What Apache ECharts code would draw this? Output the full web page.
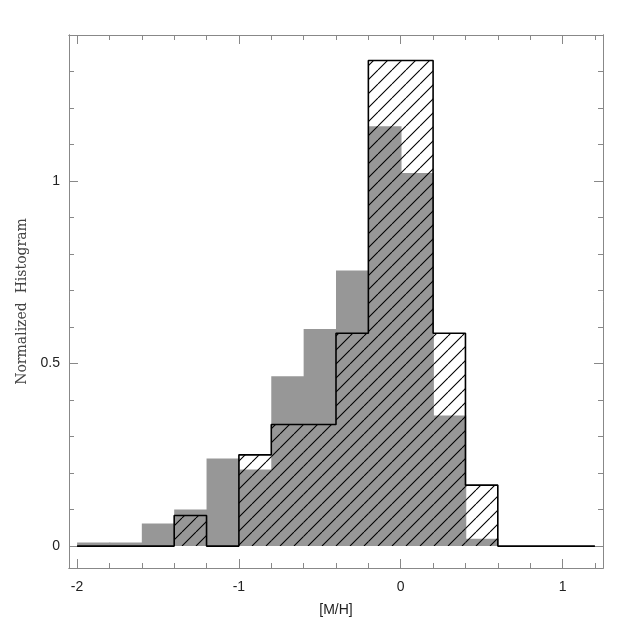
<!DOCTYPE html>
<html>
<head>
<meta charset="utf-8">
<script src="https://cdn.jsdelivr.net/npm/echarts@6/dist/echarts.min.js"></script>
<style>html,body{margin:0;padding:0;background:#fff}#chart{width:638px;height:638px}</style>
</head>
<body>
<div id="chart"></div>
<script>
// Bin edges of the [M/H] histograms
const binEdges = [-2.0,-1.8,-1.6,-1.4,-1.2,-1.0,-0.8,-0.6,-0.4,-0.2,0.0,0.2,0.4,0.6,0.8,1.0,1.2];
// Gray filled histogram
const grayValues = [0.01,0.01,0.062,0.100,0.240,0.210,0.465,0.595,0.755,1.150,1.022,0.358,0.020,0,0,0];
// Hatched outlined histogram
const hatchValues = [0,0,0,0.084,0,0.250,0.333,0.333,0.583,1.330,1.330,0.583,0.167,0,0,0];
// Tick labels/positions
const xMajorTicks = [-2,-1,0,1];
const xMinorTicks = [-1.8,-1.6,-1.4,-1.2,-0.8,-0.6,-0.4,-0.2,0.2,0.4,0.6,0.8,1.2];
const yMajorTicks = [0,0.5,1];
const yMinorTicks = [0.1,0.2,0.3,0.4,0.6,0.7,0.8,0.9,1.1,1.2,1.3];

const X_MIN = -2.05, X_MAX = 1.25, Y_MIN = -0.06, Y_MAX = 1.4;
const frameColor = '#888888';
const sansFont = 'Liberation Sans, Arial, sans-serif';

// hatch pattern
const tile = 14;
const pc = document.createElement('canvas');
pc.width = tile; pc.height = tile;
const pctx = pc.getContext('2d');
pctx.strokeStyle = '#000';
pctx.lineWidth = 1.1;
pctx.beginPath();
[-tile, 0, tile].forEach(k => { pctx.moveTo(k, tile); pctx.lineTo(k + tile, 0); });
pctx.stroke();

const grayData = grayValues.map((v, i) => [binEdges[i], binEdges[i+1], v]);
const hatchData = hatchValues.map((v, i) => [binEdges[i], binEdges[i+1], v]);
const stepData = hatchValues.map((v, i) => [binEdges[i], v]);
stepData.push([binEdges[binEdges.length-1], 0]);

function rectRender(fill, seam) {
  return function (params, api) {
    const p0 = api.coord([api.value(0), api.value(2)]);
    const p1 = api.coord([api.value(1), 0]);
    const h = p1[1] - p0[1];
    if (h <= 0) return null;
    return {
      type: 'rect',
      shape: { x: p0[0], y: p0[1], width: p1[0] - p0[0] + seam, height: h },
      style: { fill: fill }
    };
  };
}

function xAxisDef(pos, ticks, len, labels) {
  return {
    type: 'value', min: X_MIN, max: X_MAX, position: pos,
    axisLine: { show: true, onZero: false, lineStyle: { color: frameColor, width: 1 } },
    axisTick: { show: true, inside: true, length: len, customValues: ticks, lineStyle: { color: frameColor } },
    axisLabel: labels ? { show: true, customValues: ticks, margin: 12, fontSize: 14, color: '#222', fontFamily: sansFont } : { show: false },
    splitLine: { show: false }
  };
}
function yAxisDef(pos, ticks, len, labels) {
  return {
    type: 'value', min: Y_MIN, max: Y_MAX, position: pos,
    axisLine: { show: true, onZero: false, lineStyle: { color: frameColor, width: 1 } },
    axisTick: { show: true, inside: true, length: len, customValues: ticks, lineStyle: { color: frameColor } },
    axisLabel: labels ? { show: true, customValues: ticks, margin: 9, fontSize: 14, color: '#222', fontFamily: sansFont } : { show: false },
    splitLine: { show: false }
  };
}

const xa0 = xAxisDef('bottom', xMajorTicks, 9, true);
xa0.name = '[M/H]';
xa0.nameLocation = 'middle';
xa0.nameGap = 35;
xa0.nameTextStyle = { fontSize: 14, color: '#222', fontFamily: sansFont };
const ya0 = yAxisDef('left', yMajorTicks, 9, true);
ya0.name = 'Normalized  Histogram';
ya0.nameLocation = 'middle';
ya0.nameGap = 40;
ya0.nameTextStyle = { fontSize: 14, color: '#444', fontFamily: 'DejaVu Serif, Liberation Serif, serif', fontWeight: 'normal' };

const chart = echarts.init(document.getElementById('chart'), null, { renderer: 'canvas' });
chart.setOption({
  animation: false,
  backgroundColor: '#ffffff',
  grid: { left: 69, right: 35, top: 35, bottom: 70, containLabel: false },
  xAxis: [
    xa0,
    xAxisDef('bottom', xMinorTicks, 5, false),
    xAxisDef('top', xMajorTicks, 9, false),
    xAxisDef('top', xMinorTicks, 5, false)
  ],
  yAxis: [
    ya0,
    yAxisDef('left', yMinorTicks, 5, false),
    yAxisDef('right', yMajorTicks, 9, false),
    yAxisDef('right', yMinorTicks, 5, false)
  ],
  series: [
    {
      type: 'custom', name: 'gray', xAxisIndex: 0, yAxisIndex: 0,
      renderItem: rectRender('#979797', 0.8),
      encode: { x: [0, 1], y: 2 },
      data: grayData, z: 2, silent: true
    },
    {
      type: 'custom', name: 'hatch', xAxisIndex: 0, yAxisIndex: 0,
      renderItem: rectRender({ image: pc, repeat: 'repeat' }, 0),
      encode: { x: [0, 1], y: 2 },
      data: hatchData, z: 3, silent: true
    },
    {
      type: 'line', name: 'outline', xAxisIndex: 0, yAxisIndex: 0,
      step: 'end', showSymbol: false, symbol: 'none',
      lineStyle: { color: '#000', width: 1.6 },
      data: stepData, z: 4, silent: true
    }
  ]
});
</script>
</body>
</html>
